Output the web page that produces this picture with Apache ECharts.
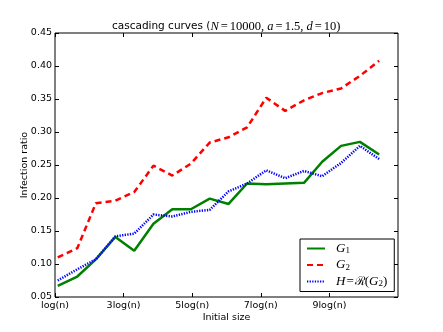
<!DOCTYPE html>
<html>
<head>
<meta charset="utf-8">
<script src="https://cdn.jsdelivr.net/npm/echarts@6/dist/echarts.min.js"></script>
<style>
  html, body { margin: 0; padding: 0; background: #fff; }
  #chart { width: 443px; height: 332px; }
</style>
</head>
<body>
<div id="chart"></div>
<script>
// x positions in units of log(n)
var sizes = [1.08, 1.65, 2.19, 2.76, 3.31, 3.87, 4.42, 4.96, 5.51, 6.06, 6.60, 7.16, 7.71, 8.26, 8.79, 9.34, 9.89, 10.45]
var g1 = [0.067, 0.081, 0.107, 0.141, 0.120, 0.161, 0.183, 0.183, 0.199, 0.191, 0.222, 0.221, 0.222, 0.223, 0.255, 0.279, 0.285, 0.266]
var g2 = [0.110, 0.124, 0.192, 0.196, 0.209, 0.249, 0.234, 0.252, 0.284, 0.292, 0.307, 0.352, 0.332, 0.348, 0.359, 0.366, 0.385, 0.408]
var h = [0.075, 0.092, 0.107, 0.142, 0.146, 0.175, 0.172, 0.179, 0.182, 0.210, 0.222, 0.242, 0.230, 0.241, 0.233, 0.253, 0.279, 0.259]
var xTicks = [1, 3, 5, 7, 9]
var xTickLabels = ['log(n)', '3log(n)', '5log(n)', '7log(n)', '9log(n)']
var seriesNames = ['G1', 'G2', 'H']

function pairs (ys) {
  return ys.map(function (y, i) { return [sizes[i], y] })
}

var chart = echarts.init(document.getElementById('chart'))

var tickFont = { fontFamily: 'DejaVu Sans', fontSize: 9.5, color: '#000' }
var tickStyle = { show: true, inside: true, length: 4, lineStyle: { color: '#000' } }

chart.setOption({
  animation: false,
  title: {
    text: '{n|cascading curves (}{i|N}{e|=}{m|10000, }{i|a}{e|=}{m|1.5, }{i|d}{e|=}{m|10)}',
    left: 107,
    top: 15,
    textStyle: {
      fontWeight: 'normal',
      rich: {
        n: { fontFamily: 'DejaVu Sans', fontSize: 10.5, fontWeight: 'normal', color: '#000' },
        i: { fontFamily: 'Liberation Serif', fontStyle: 'italic', fontWeight: 'normal', fontSize: 12.5, color: '#000' },
        m: { fontFamily: 'Liberation Serif', fontWeight: 'normal', fontSize: 12.5, color: '#000' },
        e: { fontFamily: 'Liberation Serif', fontWeight: 'normal', fontSize: 12.5, color: '#000', padding: [0, 2, 0, 2] }
      }
    }
  },
  grid: {
    left: 55, right: 45, top: 33, bottom: 35,
    show: true, borderColor: '#000', borderWidth: 1
  },
  legend: {
    orient: 'vertical',
    left: 300,
    top: 239,
    padding: [3, 7, 3, 6],
    borderColor: '#000',
    borderWidth: 1,
    itemWidth: 18,
    itemHeight: 12,
    itemGap: 3,
    itemStyle: { opacity: 0 },
    data: seriesNames,
    formatter: function (name) {
      if (name === 'G1') return '{i|G}{s|1}'
      if (name === 'G2') return '{i|G}{s|2}'
      return '{i|H}{e|=}{c|ℛ}{m|(}{i|G}{s|2}{m|)}'
    },
    textStyle: {
      padding: [0, 0, 0, 6],
      rich: {
        i: { fontFamily: 'Liberation Serif', fontStyle: 'italic', fontSize: 13, color: '#000' },
        m: { fontFamily: 'Liberation Serif', fontSize: 13, color: '#000' },
        e: { fontFamily: 'Liberation Serif', fontSize: 13, color: '#000', padding: [0, 1, 0, 1] },
        c: { fontFamily: 'DejaVu Serif', fontSize: 12, color: '#000' },
        s: { fontFamily: 'Liberation Serif', fontSize: 9, color: '#000', padding: [5, 0, 0, 0] }
      }
    }
  },
  xAxis: [
    {
      type: 'value',
      min: 1,
      max: 11,
      name: 'Initial size',
      nameLocation: 'middle',
      nameMoveOverlap: false,
      nameGap: 16,
      nameTextStyle: { fontFamily: 'DejaVu Sans', fontSize: 9.5, color: '#000' },
      splitLine: { show: false },
      axisLine: { show: false },
      axisTick: Object.assign({ customValues: xTicks }, tickStyle),
      axisLabel: Object.assign({
        margin: 4,
        customValues: xTicks,
        formatter: function (v) { return xTickLabels[xTicks.indexOf(v)] }
      }, tickFont)
    },
    {
      type: 'value',
      position: 'top',
      min: 1,
      max: 11,
      splitLine: { show: false },
      axisLine: { show: false },
      axisTick: Object.assign({ customValues: xTicks }, tickStyle),
      axisLabel: { show: false }
    }
  ],
  yAxis: [
    {
      type: 'value',
      min: 0.05,
      max: 0.45,
      interval: 0.05,
      name: 'Infection ratio',
      nameLocation: 'middle',
      nameMoveOverlap: false,
      nameGap: 25,
      nameTextStyle: { fontFamily: 'DejaVu Sans', fontSize: 9.5, color: '#000' },
      splitLine: { show: false },
      axisLine: { show: false },
      axisTick: tickStyle,
      axisLabel: Object.assign({
        margin: 3,
        formatter: function (v) { return v.toFixed(2) }
      }, tickFont)
    },
    {
      type: 'value',
      position: 'right',
      min: 0.05,
      max: 0.45,
      interval: 0.05,
      splitLine: { show: false },
      axisLine: { show: false },
      axisTick: tickStyle,
      axisLabel: { show: false }
    }
  ],
  series: [
    {
      name: 'G1',
      type: 'line',
      symbol: 'none',
      data: pairs(g1),
      lineStyle: { color: '#008000', width: 2.5 },
      itemStyle: { color: '#008000' }
    },
    {
      name: 'G2',
      type: 'line',
      symbol: 'none',
      data: pairs(g2),
      lineStyle: { color: '#ff0000', width: 2.5, type: [6, 4] },
      itemStyle: { color: '#ff0000' }
    },
    {
      name: 'H',
      type: 'line',
      symbol: 'none',
      data: pairs(h),
      lineStyle: { color: '#0000ff', width: 2.5, type: [1.3, 1.3] },
      itemStyle: { color: '#0000ff' }
    }
  ]
})
</script>
</body>
</html>
